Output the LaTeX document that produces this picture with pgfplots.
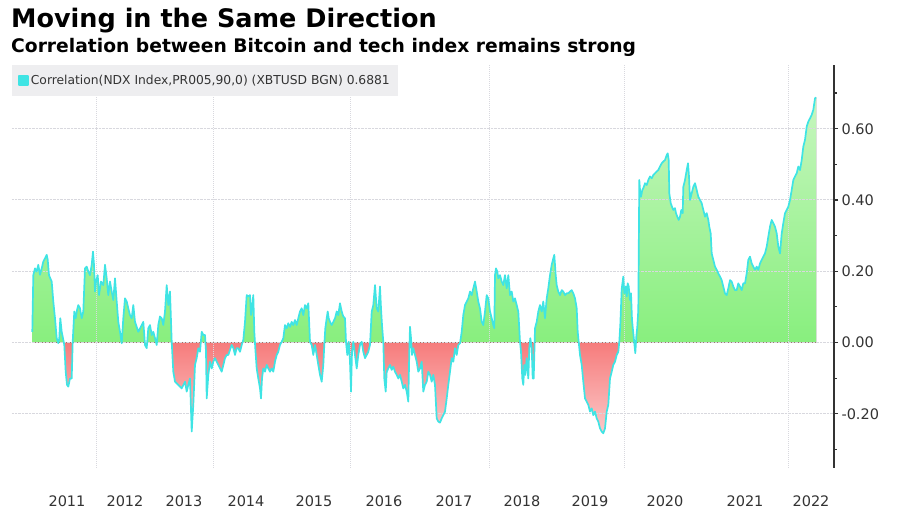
\documentclass[border=0pt]{standalone}
\usepackage{pgfplots}
\pgfplotsset{compat=1.18}
\usepackage{pgfplotstable}
\usepgfplotslibrary{fillbetween}
\usepackage{fontspec}
\setmainfont{DejaVu Sans}
\definecolor{linec}{HTML}{3FE4E4}
\definecolor{gtop}{HTML}{C6F6BE}
\definecolor{gbot}{HTML}{88EF7E}
\definecolor{rtop}{HTML}{F67C7C}
\definecolor{rbot}{HTML}{FCC8C8}
\definecolor{gridc}{HTML}{D8D8DE}
\definecolor{axc}{HTML}{333333}
\definecolor{legbg}{HTML}{EEEEF0}
% path bounding box runs from -0.255 (25bp) to 0.688 (75bp); zero lies at 38.5bp
\pgfdeclareverticalshading{greensh}{100bp}{color(0bp)=(gbot); color(38.5bp)=(gbot); color(75bp)=(gtop); color(100bp)=(gtop)}
\pgfdeclareverticalshading{redsh}{100bp}{color(0bp)=(rbot); color(25bp)=(rbot); color(38.5bp)=(rtop); color(100bp)=(rtop)}

\pgfplotstableread{
x y
32.3 0.03
33.3 0.189
35.0 0.208
36.7 0.199
38.3 0.218
40.0 0.190
41.7 0.208
43.3 0.227
45.0 0.236
46.7 0.246
47.7 0.232
49.0 0.189
50.3 0.180
51.7 0.171
53.3 0.115
55.0 0.068
56.7 0.012
58.3 -0.002
59.3 0.012
60.3 0.068
61.7 0.030
63.0 0.012
64.3 -0.007
65.7 -0.082
67.0 -0.119
68.3 -0.124
70.0 -0.101
71.7 -0.101
72.7 0.002
74.3 0.087
75.7 0.068
77.0 0.091
78.3 0.105
80.0 0.096
81.7 0.068
83.3 0.087
85.0 0.208
86.7 0.213
88.3 0.199
90.0 0.189
91.7 0.218
93.0 0.255
94.0 0.218
95.0 0.143
96.0 0.171
97.7 0.189
99.0 0.133
101.0 0.171
103.3 0.161
105.0 0.218
106.7 0.180
108.3 0.133
110.0 0.171
111.7 0.143
113.3 0.119
115.0 0.180
116.7 0.115
118.3 0.058
120.0 0.030
121.7 -0.002
123.3 0.068
125.0 0.124
126.7 0.115
128.3 0.096
130.0 0.077
131.7 0.068
133.3 0.105
135.0 0.058
138.3 0.030
141.7 0.049
143.3 0.058
145.0 -0.007
146.7 -0.016
148.3 0.040
150.0 0.049
151.7 0.021
153.3 0.030
155.0 0.012
156.7 -0.007
158.3 0.049
160.0 0.073
161.7 0.068
163.3 0.049
165.0 0.087
166.7 0.161
168.3 0.105
170.0 0.143
171.7 0.002
173.3 -0.082
175.0 -0.110
178.3 -0.119
181.7 -0.129
185.0 -0.110
186.7 -0.138
188.3 -0.119
190.0 -0.101
191.7 -0.250
193.3 -0.175
195.0 -0.063
196.7 -0.044
198.3 -0.016
200.0 -0.026
201.7 0.030
203.3 0.021
205.0 0.021
206.0 -0.026
206.7 -0.157
208.3 -0.091
210.0 -0.054
211.7 -0.073
213.3 -0.054
215.0 -0.044
218.3 -0.063
221.7 -0.082
225.0 -0.044
226.7 -0.035
228.3 -0.035
231.7 -0.007
233.3 -0.016
235.0 -0.035
236.7 -0.016
238.3 -0.016
240.0 -0.026
241.7 -0.007
243.3 0.007
245.0 0.058
246.7 0.133
248.3 0.129
250.0 0.133
251.0 0.077
252.3 0.105
253.3 0.133
254.3 0.030
255.3 -0.016
256.7 -0.073
258.3 -0.101
260.0 -0.129
261.0 -0.157
262.0 -0.101
263.3 -0.073
265.0 -0.082
266.7 -0.063
268.3 -0.073
270.0 -0.082
271.7 -0.073
273.3 -0.082
275.0 -0.054
276.7 -0.035
278.3 -0.026
280.0 -0.007
281.7 0.002
283.3 0.012
285.0 0.049
286.7 0.040
288.3 0.054
290.0 0.044
291.7 0.058
293.3 0.049
295.0 0.063
296.7 0.049
298.3 0.068
300.0 0.087
301.7 0.096
303.3 0.077
305.0 0.105
306.7 0.096
308.3 0.110
310.0 0.002
311.7 -0.007
313.3 -0.035
315.0 -0.007
316.7 -0.035
318.3 -0.063
320.0 -0.091
321.7 -0.110
323.3 -0.063
324.3 -0.007
325.3 0.040
326.7 0.068
327.7 0.087
328.7 0.068
330.0 0.058
331.7 0.049
333.3 0.058
335.0 0.068
336.7 0.087
338.3 0.077
340.0 0.110
341.7 0.087
343.3 0.073
345.0 0.068
346.0 0.002
347.3 -0.035
348.7 0.002
350.0 -0.054
351.0 -0.138
352.0 -0.026
353.3 0.002
355.0 -0.035
356.7 -0.073
358.3 -0.035
360.0 -0.007
361.7 0.002
363.3 -0.026
365.0 -0.044
366.7 -0.035
368.3 -0.026
370.0 -0.007
371.7 0.087
373.3 0.105
375.0 0.161
376.7 0.096
378.3 0.087
380.0 0.157
381.0 0.096
382.0 0.049
383.3 0.002
384.3 -0.101
385.7 -0.138
386.7 -0.082
388.3 -0.073
390.0 -0.063
391.7 -0.077
393.3 -0.068
395.0 -0.082
396.7 -0.091
398.3 -0.101
400.0 -0.091
401.7 -0.110
403.3 -0.129
405.0 -0.119
406.7 -0.138
408.3 -0.166
409.3 -0.026
410.0 0.044
411.0 0.012
412.0 -0.035
413.3 -0.016
415.0 -0.035
416.7 -0.054
418.3 -0.082
420.0 -0.073
421.7 -0.054
423.3 -0.138
425.0 -0.119
426.7 -0.110
428.3 -0.082
430.0 -0.091
431.7 -0.110
433.3 -0.091
435.0 -0.119
436.7 -0.213
438.3 -0.222
440.0 -0.225
441.7 -0.213
443.3 -0.204
445.0 -0.194
446.7 -0.157
448.3 -0.119
450.0 -0.082
451.7 -0.044
453.3 -0.054
455.0 -0.016
456.7 -0.035
458.3 -0.007
460.0 -0.002
461.7 0.030
463.3 0.077
465.0 0.105
466.7 0.115
468.3 0.124
470.0 0.143
471.7 0.133
473.3 0.152
475.0 0.171
476.7 0.143
478.3 0.115
480.0 0.096
481.7 0.058
483.3 0.049
485.0 0.087
486.7 0.133
488.3 0.124
490.0 0.087
491.7 0.068
493.3 0.049
494.3 0.040
495.0 0.189
496.0 0.208
497.3 0.199
498.3 0.180
500.0 0.189
501.7 0.171
503.3 0.161
505.0 0.189
506.7 0.152
508.3 0.189
510.0 0.133
511.7 0.143
513.3 0.115
515.0 0.124
516.7 0.105
518.3 0.087
520.0 0.002
521.0 -0.026
522.3 -0.101
523.3 -0.119
524.3 -0.063
525.3 -0.091
526.7 -0.044
528.3 -0.101
529.3 -0.016
530.3 0.012
531.7 -0.016
532.7 -0.101
533.7 -0.101
535.0 0.040
536.7 0.058
538.3 0.087
540.0 0.105
541.7 0.087
543.3 0.115
545.0 0.068
546.7 0.124
548.3 0.152
550.0 0.189
551.7 0.218
553.3 0.236
554.3 0.246
555.7 0.189
556.7 0.161
558.3 0.143
560.0 0.133
561.7 0.147
563.3 0.143
565.0 0.133
566.7 0.138
568.3 0.138
570.0 0.143
571.7 0.147
573.3 0.138
575.0 0.124
576.7 0.096
577.7 0.030
579.0 -0.007
580.0 -0.035
581.7 -0.063
583.3 -0.110
585.0 -0.157
586.7 -0.166
588.3 -0.175
590.0 -0.194
591.7 -0.185
593.3 -0.204
595.0 -0.194
596.7 -0.213
598.3 -0.222
600.0 -0.241
601.7 -0.250
603.3 -0.255
605.0 -0.241
606.7 -0.194
608.3 -0.175
610.0 -0.101
611.7 -0.082
613.3 -0.063
615.0 -0.054
616.7 -0.035
618.3 -0.026
619.3 0.002
620.3 0.049
621.7 0.150
623.3 0.185
624.3 0.138
625.7 0.157
626.7 0.129
627.7 0.166
628.7 0.157
630.0 0.119
631.0 0.138
632.0 0.063
633.3 0.026
634.3 -0.002
635.3 -0.030
636.3 0.016
637.3 0.044
638.3 0.091
639.3 0.456
640.0 0.428
641.0 0.409
642.3 0.428
643.3 0.433
645.0 0.447
646.7 0.442
648.3 0.456
650.0 0.466
651.7 0.461
653.3 0.470
655.0 0.475
656.7 0.480
658.3 0.484
660.0 0.494
661.7 0.503
663.3 0.508
665.0 0.512
666.7 0.526
667.7 0.531
668.7 0.512
669.3 0.419
670.7 0.391
672.0 0.381
673.3 0.372
675.0 0.377
676.0 0.363
677.3 0.353
678.7 0.344
680.0 0.353
681.3 0.372
682.7 0.363
683.3 0.437
685.0 0.456
686.7 0.484
688.0 0.503
689.0 0.466
690.0 0.400
691.7 0.419
693.3 0.437
695.0 0.447
696.7 0.428
698.3 0.409
700.0 0.400
701.7 0.391
703.3 0.372
705.0 0.353
706.7 0.363
708.3 0.344
709.3 0.325
710.7 0.306
711.7 0.250
713.3 0.232
715.0 0.213
716.7 0.204
718.3 0.194
720.0 0.185
721.7 0.175
723.3 0.157
725.0 0.138
726.7 0.133
728.3 0.152
730.0 0.175
731.7 0.171
733.3 0.157
735.0 0.147
736.7 0.147
738.3 0.166
740.0 0.157
741.7 0.147
743.3 0.166
745.0 0.166
746.7 0.194
748.3 0.232
750.0 0.241
751.7 0.222
753.3 0.213
755.0 0.204
756.7 0.213
758.3 0.204
760.0 0.222
761.7 0.232
763.3 0.241
765.0 0.250
766.7 0.269
768.3 0.297
770.0 0.325
771.7 0.344
773.3 0.335
775.0 0.325
776.7 0.306
778.3 0.269
780.0 0.250
781.7 0.306
783.3 0.335
785.0 0.363
786.7 0.372
788.3 0.381
790.0 0.400
791.7 0.428
793.3 0.456
795.0 0.466
796.7 0.475
798.3 0.494
800.0 0.484
801.7 0.512
803.3 0.550
805.0 0.569
806.7 0.606
808.3 0.620
810.0 0.629
811.7 0.639
813.3 0.653
815.0 0.685
816.0 0.688
}\corr

\pgfplotsset{
  frame/.style={scale only axis, width=822pt, xmin=12, xmax=834, anchor=south west},
}

\begin{document}
\begin{tikzpicture}[x=1pt,y=1pt]
% 1: grid, ticks and tick labels
\begin{axis}[
  frame, at={(12pt,42pt)}, height=403pt,
  ymin=-0.3523, ymax=0.7789,
  axis y line*=right, axis x line*=bottom,
  x axis line style={draw=none},
  y axis line style={draw=axc, line width=1.3pt},
  ytick={-0.2,0,0.2,0.4,0.6},
  yticklabels={-0.20,0.00,0.20,0.40,0.60},
  minor ytick={-0.3,-0.1,0.1,0.3,0.5,0.7},
  ymajorgrids,
  major grid style={draw=gridc, densely dotted, line width=1pt},
  tick align=outside,
  major tick length=4pt, minor tick length=2.5pt,
  y tick style={draw=axc, line width=1.2pt},
  xtick={67,125,184,246,314,384,454,522,590,665,745,811},
  xticklabels={2011,2012,2013,2014,2015,2016,2017,2018,2019,2020,2021,2022},
  x tick style={draw=none},
  extra x ticks={96,213,350,489,624,788},
  extra x tick labels={},
  extra x tick style={grid=major, major grid style={draw=gridc, densely dotted, line width=1pt}},
  ticklabel style={font=\fontsize{14.5}{16}\selectfont, text=axc},
  xticklabel style={anchor=base, inner sep=0pt, yshift=-35pt},
  yticklabel style={anchor=west},
  clip=false,
]
\addplot[draw=none, forget plot] coordinates {(32.3,0) (816,0)};
\end{axis}
% 2: positive part of the area, clipped by an axis whose floor is zero
\begin{axis}[frame, at={(12pt,167.5pt)}, height=277.5pt, ymin=0, ymax=0.7789, hide axis, clip=true]
\addplot[name path=A, draw=none] table[x=x,y=y] {\corr};
\addplot[name path=Z, draw=none] coordinates {(32.3,0) (816,0)};
\addplot[draw=none, shading=greensh] fill between[of=A and Z];
\end{axis}
% 3: negative part of the area, clipped by an axis whose ceiling is zero
\begin{axis}[frame, at={(12pt,42pt)}, height=125.5pt, ymin=-0.3523, ymax=0, hide axis, clip=true]
\addplot[name path=A, draw=none] table[x=x,y=y] {\corr};
\addplot[name path=Z, draw=none] coordinates {(32.3,0) (816,0)};
\addplot[draw=none, shading=redsh] fill between[of=A and Z];
\end{axis}
% 4: the correlation line and the legend
\begin{axis}[
  frame, at={(12pt,42pt)}, height=403pt,
  ymin=-0.3523, ymax=0.7789, hide axis, clip=false,
  legend style={at={(0,1)}, anchor=north west, fill=legbg, draw=none,
    font=\fontsize{12.3}{14}\selectfont, text=axc, inner xsep=6pt, inner ysep=8pt},
  legend image code/.code={\fill[linec] (0pt,-4.5pt) rectangle (9pt,4.5pt);},
]
\addplot[linec, line width=1.7pt, line join=round] table[x=x,y=y] {\corr};
\addlegendentry{Correlation(NDX Index,PR005,90,0) (XBTUSD BGN) 0.6881}
\end{axis}
\node[anchor=base west, inner sep=0pt, font=\bfseries\fontsize{25.5}{28}\selectfont] at (11,482) {Moving in the Same Direction};
\node[anchor=base west, inner sep=0pt, font=\bfseries\fontsize{18.7}{21}\selectfont] at (11,457.4) {Correlation between Bitcoin and tech index remains strong};
\pgfresetboundingbox
\path (0,0) rectangle (900,510);
\end{tikzpicture}
\end{document}
